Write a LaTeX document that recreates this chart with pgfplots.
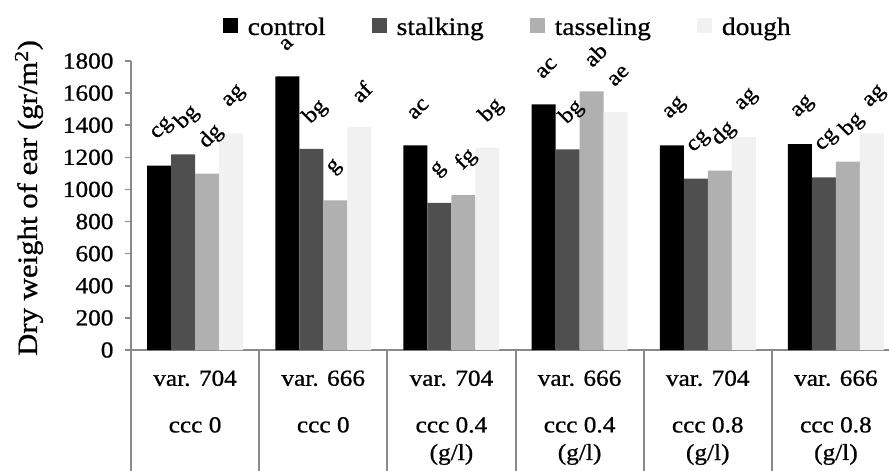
\documentclass[border=0pt]{standalone}
\usepackage{pgfplots}
\pgfplotsset{compat=1.18}
\usepackage{pgfplotstable}
\usepackage{fontspec}
\setmainfont{Liberation Serif}[FakeStretch=1.1, FakeBold=0.8]
\definecolor{cA}{HTML}{000000}
\definecolor{cB}{HTML}{4F4F4F}
\definecolor{cC}{HTML}{B0B0B0}
\definecolor{cD}{HTML}{F1F1F1}
\definecolor{axgray}{HTML}{898989}

\pgfplotstableread{
x y lab
0 1148 cg
1 1704 a
2 1275 ac
3 1530 ac
4 1275 ag
5 1283 ag
}\control
\pgfplotstableread{
x y lab
0 1218 bg
1 1252 bg
2 917 g
3 1250 bg
4 1067 cg
5 1075 cg
}\stalking
\pgfplotstableread{
x y lab
0 1098 dg
1 932 g
2 965 fg
3 1611 ab
4 1117 dg
5 1173 bg
}\tasseling
\pgfplotstableread{
x y lab
0 1348 ag
1 1389 af
2 1260 bg
3 1482 ae
4 1326 ag
5 1347 ag
}\dough

\begin{document}
\begin{tikzpicture}
\begin{axis}[
  at={(0pt,0pt)}, anchor=south west,
  width=758pt, height=289pt, scale only axis,
  xmin=-0.5, xmax=5.414, ymin=0, ymax=1800,
  clip=false,
  ybar=0pt, bar width=24pt,
  axis x line=bottom, axis y line=left,
  axis line style={-, draw=axgray, line width=2pt},
  ytick={0,200,...,1800},
  tick align=outside,
  major tick length=6pt,
  minor tick length=121pt,
  ytick style={draw=axgray, line width=1.5pt},
  major x tick style={draw=none},
  xtick={0,1,2,3,4,5},
  minor xtick={-0.5,0.5,1.5,2.5,3.5,4.5,5.5},
  minor x tick style={draw=axgray, line width=2pt},
  xticklabels={
    {var. 704\\[19pt]ccc 0},
    {var. 666\\[19pt]ccc 0},
    {var. 704\\[19pt]ccc 0.4\\(g/l)},
    {var. 666\\[19pt]ccc 0.4\\(g/l)},
    {var. 704\\[19pt]ccc 0.8\\(g/l)},
    {var. 666\\[19pt]ccc 0.8\\(g/l)}},
  xticklabel style={align=center, anchor=north, yshift=-11pt, font=\fontsize{23}{27.6}\selectfont},
  yticklabel style={xshift=-8pt, font=\fontsize{23}{27.6}\selectfont},
  /pgf/number format/assume math mode=true,
  /pgf/number format/1000 sep={},
  ylabel={Dry weight of ear (gr/m\textsuperscript{2})},
  every axis y label/.style={at={(axis description cs:-0.1346,0.526)}, rotate=90, anchor=center, font=\fontsize{28}{33}\selectfont},
  legend columns=4,
  legend style={at={(axis description cs:0.497,1.1176)}, anchor=center, draw=none, fill=none,
    font=\fontsize{25}{29}\selectfont,
    /tikz/every odd column/.append style={column sep=8pt},
    /tikz/every even column/.append style={column sep=44pt}},
  legend image code/.code={\fill[#1] (0pt,-6pt) rectangle (15pt,9pt);},
  nodes near coords,
  point meta=explicit symbolic,
  every node near coord/.append style={xshift=-7pt, yshift=26pt, rotate=45, anchor=west, text=black, font=\fontsize{22}{26}\selectfont},
]
\addplot[fill=cA, draw=none] table[x=x, y=y, meta=lab] {\control};
\addplot[fill=cB, draw=none] table[x=x, y=y, meta=lab] {\stalking};
\addplot[fill=cC, draw=none] table[x=x, y=y, meta=lab] {\tasseling};
\addplot[fill=cD, draw=none] table[x=x, y=y, meta=lab] {\dough};
\legend{control, stalking, tasseling, dough}
\end{axis}
\pgfresetboundingbox
\path[use as bounding box] (-131pt,-121pt) rectangle (758pt,350pt);
\end{tikzpicture}
\end{document}
